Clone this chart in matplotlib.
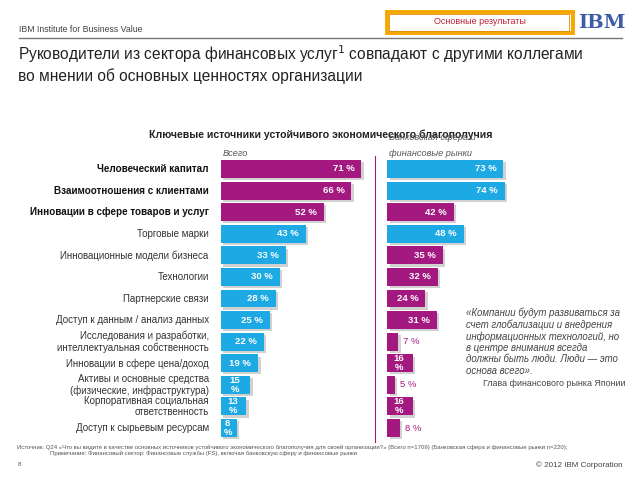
import matplotlib
matplotlib.use("Agg")
import matplotlib.pyplot as plt
import matplotlib.patheffects as pe
from matplotlib.patches import Rectangle
from matplotlib.lines import Line2D

plt.rcParams['font.family'] = ['Liberation Sans', 'DejaVu Sans']

# ---------------- data ----------------
categories = [
    "Человеческий капитал",
    "Взаимоотношения с клиентами",
    "Инновации в сфере товаров и услуг",
    "Торговые марки",
    "Инновационные модели бизнеса",
    "Технологии",
    "Партнерские связи",
    "Доступ к данным / анализ данных",
    "Исследования и разработки,\nинтеллектуальная собственность",
    "Инновации в сфере цена/доход",
    "Активы и основные средства\n(физические, инфраструктура)",
    "Корпоративная социальная\nответственность",
    "Доступ к сырьевым ресурсам",
]
total_values = [71, 66, 52, 43, 33, 30, 28, 25, 22, 19, 15, 13, 8]
banking_values = [73, 74, 42, 48, 35, 32, 24, 31, 7, 16, 5, 16, 8]
total_highlight = [True, True, True, False, False, False, False, False, False, False, False, False, False]
banking_highlight = [False, False, True, False, True, True, True, True, True, True, True, True, True]

chart_title = "Ключевые источники устойчивого экономического благополучия"
total_header = "Всего"
banking_header = ["Банковская сфера и", "финансовые рынки"]
quote = ("«Компании будут развиваться за\nсчет глобализации и внедрения\n"
         "информационных технологий, но\nв центре внимания всегда\n"
         "должны быть люди. Люди — это\nоснова всего».")
quote_author = "Глава финансового рынка Японии"
page_title = ("Руководители из сектора финансовых услуг$^{1}$ совпадают с другими коллегами\n"
              "во мнении об основных ценностях организации")
footnote1 = ("Источник: Q24 «Что вы видите в качестве основных источников устойчивого экономического "
             "благополучия для своей организации?» (Всего n=1709) (Банковская сфера и финансовые рынки n=220);")
footnote2 = "Примечание: Финансовый сектор: Финансовые службы (FS), включая банковскую сферу и финансовые рынки"

MAGENTA = '#A3197F'
CYAN = '#1CA9E4'

W, H = 640, 480
fig = plt.figure(figsize=(6.4, 4.8), dpi=100)
fig.patch.set_facecolor('white')

def fx(x):
    return x / W

def fy(y):
    return 1 - y / H

# ---------------- header ----------------
fig.text(fx(19), fy(30), "IBM Institute for Business Value", fontsize=6.3, color='#444',
         ha='left', va='center')
fig.add_artist(Line2D([fx(19), fx(622)], [fy(38), fy(38)], color='#777', lw=1.0))
fig.add_artist(Rectangle((fx(387), fy(33)), fx(573 - 387), (33 - 12) / H, facecolor='white',
                         edgecolor='#F6A800', lw=2.8))
fig.add_artist(Rectangle((fx(389), fy(31)), fx(569 - 389), (31 - 14) / H, facecolor='none',
                         edgecolor='#E08A00', lw=0.6))
fig.text(fx(480), fy(22), "Основные результаты", fontsize=6.5, color='#C0203A',
         ha='center', va='center')
fig.text(fx(602), fy(22.5), "IBM", fontsize=14, color='#3C5BA8', fontweight='bold',
         family=['DejaVu Serif'], ha='center', va='center')
for k in range(8):
    yy = 15.5 + k * 2.0
    fig.add_artist(Line2D([fx(577), fx(628)], [fy(yy), fy(yy)], color='white', lw=0.7))

fig.text(fx(18), fy(64), page_title, fontsize=11.2, color='#222', ha='left', va='center',
         linespacing=1.25)

# ---------------- chart ----------------
top_px, bot_px = 158.2, 438.8
ax_l = fig.add_axes([fx(220.7), (H - bot_px) / H, fx(370 - 220.7), (bot_px - top_px) / H])
ax_r = fig.add_axes([fx(387.3), (H - bot_px) / H, fx(530 - 387.3), (bot_px - top_px) / H])
scale_l = 1.98
scale_r = 1.59
ax_l.set_xlim(0, (370 - 220.7) / scale_l)
ax_r.set_xlim(0, (530 - 387.3) / scale_r)

shadow = [pe.SimplePatchShadow(offset=(1.6, -1.6), shadow_rgbFace='#999999', alpha=0.45), pe.Normal()]

rows = list(range(len(categories)))
for ax, vals, hl, sc in [(ax_l, total_values, total_highlight, scale_l),
                         (ax_r, banking_values, banking_highlight, scale_r)]:
    cols = [MAGENTA if h else CYAN for h in hl]
    ax.barh(rows, vals, height=0.83, color=cols, path_effects=shadow, zorder=2)
    ax.set_ylim(len(categories) - 0.5, -0.5)
    ax.axis('off')
    for i, (v, c) in enumerate(zip(vals, cols)):
        wpx = v * sc
        if wpx < 14:
            ax.annotate(f"{v} %", xy=(v, i), xytext=(5, 0), textcoords='offset pixels',
                        ha='left', va='center', fontsize=6.8, color=c, zorder=3)
        elif wpx < 33:
            ax.annotate(f"{v}\n%", xy=(v / 2, i), xytext=(-1, 0), textcoords='offset pixels',
                        ha='center', va='center', fontsize=6.8, color='white',
                        fontweight='bold', linespacing=1.0, zorder=3)
        else:
            ax.annotate(f"{v} %", xy=(v, i), xytext=(-7, 0), textcoords='offset pixels',
                        ha='right', va='center', fontsize=6.8, color='white',
                        fontweight='bold', zorder=3)

for i, (lab, h) in enumerate(zip(categories, total_highlight)):
    ax_l.annotate(lab, xy=(0, i), xytext=(-12, 0), textcoords='offset pixels',
                  ha='right', va='center', fontsize=7.1 if h else 7.0,
                  fontweight='bold' if h else 'normal',
                  color='#111' if h else '#333', linespacing=1.15, annotation_clip=False)

# divider
fig.add_artist(Line2D([fx(375), fx(375)], [fy(156), fy(442)], color=MAGENTA, lw=0.8))

# headers
fig.text(fx(321), fy(135), chart_title, fontsize=7.6, fontweight='bold', color='#222',
         ha='center', va='center')
fig.text(fx(223), fy(153), total_header, fontsize=6.6, style='italic', color='#555',
         ha='left', va='center')
fig.text(fx(389), fy(138), banking_header[0], fontsize=6.6, style='italic', color='#555',
         ha='left', va='center')
fig.text(fx(389), fy(153), banking_header[1], fontsize=6.6, style='italic', color='#555',
         ha='left', va='center')

# quote
fig.text(fx(466), fy(308), quote, fontsize=6.9, style='italic', color='#444',
         ha='left', va='top', linespacing=1.15)
fig.text(fx(483), fy(384), quote_author, fontsize=6.4, color='#444', ha='left', va='center')

# footer
fig.text(fx(17), fy(447), footnote1, fontsize=4.3, color='#555', ha='left', va='center')
fig.text(fx(50), fy(453), footnote2, fontsize=4.3, color='#555', ha='left', va='center')
fig.text(fx(18), fy(465), "8", fontsize=4.5, color='#555', ha='left', va='center')
fig.text(fx(622), fy(465), "© 2012 IBM Corporation", fontsize=5.8, color='#444',
         ha='right', va='center')

fig.savefig("out.png", dpi=100, facecolor='white')
